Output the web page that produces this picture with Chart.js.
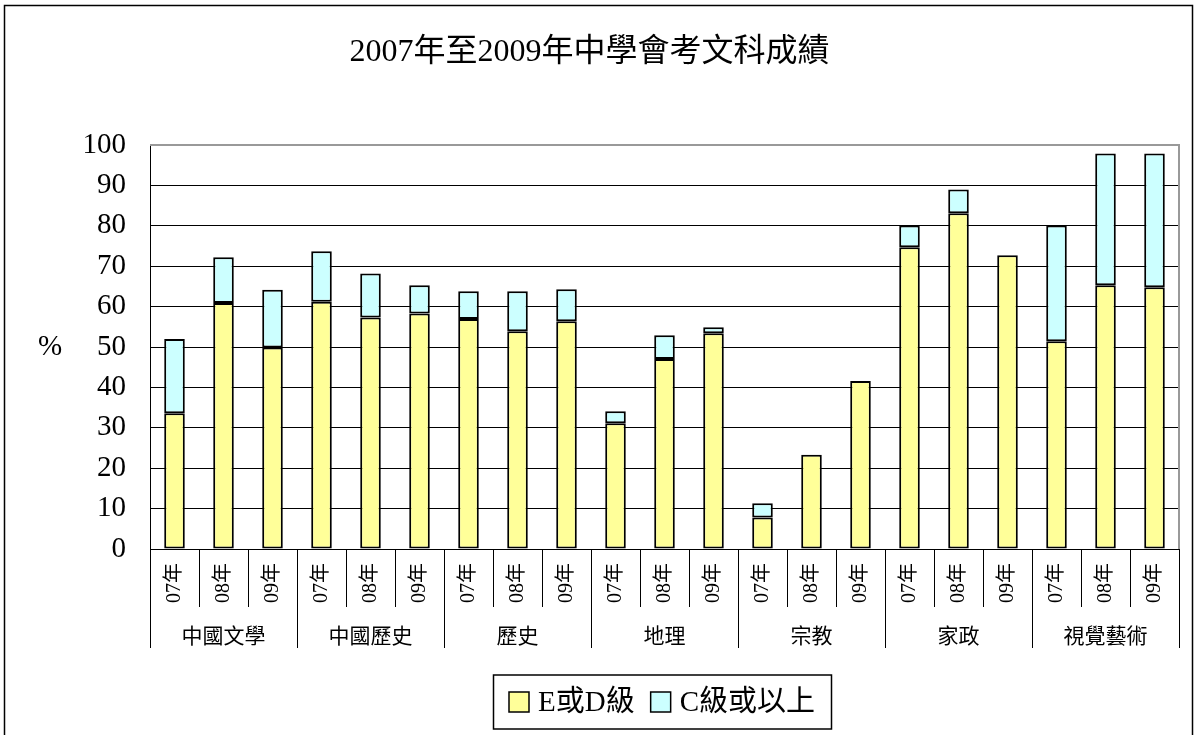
<!DOCTYPE html>
<html lang="zh-Hant">
<head>
    <meta charset="UTF-8">
    <title>2007年至2009年中學會考文科成績</title>
    <script src="https://cdn.jsdelivr.net/npm/chart.js"></script>
    <style>
        html, body { margin: 0; padding: 0; background: #fff; overflow: hidden; }
    </style>
</head>
<body>
    <canvas id="gradeChart" width="1197" height="735"></canvas>
    <script>
        // subjects and years (x axis has two levels)
        const subjects = ['中國文學', '中國歷史', '歷史', '地理', '宗教', '家政', '視覺藝術'];
        const years = ['07年', '08年', '09年'];

        // % of candidates per bar
        const gradeED = [33.6, 60.9, 49.9, 61.2, 57.3, 58.3, 56.9, 53.9, 56.4, 31.1, 47.0, 53.4, 7.8, 23.3, 41.6, 74.7, 83.1, 72.7, 51.4, 65.3, 64.8];
        const gradeCUp = [18.4, 11.3, 14.3, 12.5, 10.9, 7.0, 6.9, 9.9, 7.9, 3.0, 5.9, 1.5, 3.5, 0, 0, 5.4, 5.9, 0, 28.7, 32.6, 33.1];

        const seriesNames = ['E或D級', 'C級或以上'];
        const yTicks = [0, 10, 20, 30, 40, 50, 60, 70, 80, 90, 100];

        const labels = [];
        subjects.forEach(() => years.forEach(y => labels.push(y)));

        const fontStack = '"Liberation Serif", "Noto Sans CJK TC", serif';
        Chart.defaults.font.family = fontStack;
        Chart.defaults.color = '#000';

        // frame, category separators, group labels, % label and boxed legend
        const decor = {
            id: 'decor',
            beforeDraw(chart) {
                const ctx = chart.ctx;
                ctx.save();
                ctx.fillStyle = '#fff';
                ctx.fillRect(0, 0, chart.width, chart.height);
                ctx.strokeStyle = '#000';
                ctx.lineWidth = 1.5;
                ctx.strokeRect(4.5, 5.5, chart.width - 9, chart.height + 20);
                ctx.restore();
            },
            beforeDatasetsDraw(chart) {
                const { ctx, chartArea } = chart;
                ctx.save();
                ctx.strokeStyle = '#999';
                ctx.lineWidth = 2;
                ctx.beginPath();
                ctx.moveTo(chartArea.left, chartArea.top);
                ctx.lineTo(chartArea.right, chartArea.top);
                ctx.lineTo(chartArea.right, chartArea.bottom);
                ctx.stroke();
                ctx.restore();
            },
            afterDraw(chart) {
                const { ctx, chartArea } = chart;
                const x = chart.scales.x;
                const y = chart.scales.y;
                const base = chartArea.bottom;
                ctx.save();

                // separators below the axis
                ctx.strokeStyle = '#000';
                ctx.lineWidth = 1;
                for (let i = 0; i <= labels.length; i++) {
                    const px = Math.round(x.getPixelForValue(i - 0.5)) + 0.5;
                    const len = (i % years.length === 0) ? 99 : 58;
                    ctx.beginPath();
                    ctx.moveTo(px, base);
                    ctx.lineTo(px, base + len);
                    ctx.stroke();
                }

                // subject labels
                ctx.font = '21px ' + fontStack;
                ctx.fillStyle = '#000';
                ctx.textAlign = 'center';
                ctx.textBaseline = 'middle';
                subjects.forEach((s, g) => {
                    const cx = x.getPixelForValue(g * years.length + 1);
                    ctx.fillText(s, cx, base + 88);
                });

                // y axis unit
                ctx.font = '29px ' + fontStack;
                ctx.fillText('%', 50, y.getPixelForValue(50));

                // legend with a frame
                ctx.font = '29px ' + fontStack;
                const box = 20, gapText = 9, gapItem = 16, padX = 16;
                const widths = chart.data.datasets.map(d => ctx.measureText(d.label).width);
                let total = padX * 2;
                widths.forEach((w, i) => { total += box + gapText + w + (i ? gapItem : 0); });
                const cy = 702, h = 54;
                let lx = 662 - total / 2;
                ctx.lineWidth = 1.5;
                ctx.strokeRect(Math.round(lx) + 0.5, cy - h / 2, Math.round(total), h);
                lx += padX;
                ctx.textAlign = 'left';
                chart.data.datasets.forEach((d, i) => {
                    if (i) lx += gapItem;
                    ctx.fillStyle = d.backgroundColor;
                    ctx.fillRect(lx, cy - box / 2, box, box);
                    ctx.lineWidth = 1.5;
                    ctx.strokeRect(lx, cy - box / 2, box, box);
                    lx += box + gapText;
                    ctx.fillStyle = '#000';
                    ctx.fillText(d.label, lx, cy + 1);
                    lx += widths[i];
                });
                ctx.restore();
            }
        };

        new Chart(document.getElementById('gradeChart'), {
            type: 'bar',
            data: {
                labels: labels,
                datasets: [
                    {
                        label: seriesNames[0],
                        data: gradeED,
                        backgroundColor: '#FFFF99',
                        borderColor: '#000',
                        borderWidth: 2,
                        borderSkipped: false
                    },
                    {
                        label: seriesNames[1],
                        data: gradeCUp,
                        backgroundColor: '#CCFFFF',
                        borderColor: '#000',
                        borderWidth: 2,
                        borderSkipped: false
                    }
                ]
            },
            options: {
                responsive: false,
                animation: false,
                barPercentage: 0.42,
                categoryPercentage: 1,
                layout: { padding: { left: 0, right: 18, top: 0, bottom: 81 } },
                plugins: {
                    legend: { display: false },
                    tooltip: { enabled: false },
                    title: {
                        display: true,
                        text: '2007年至2009年中學會考文科成績',
                        color: '#000',
                        font: { size: 32, weight: 'normal', lineHeight: 1.2 },
                        padding: { top: 33, bottom: 73.6 }
                    }
                },
                scales: {
                    x: {
                        stacked: true,
                        offset: true,
                        grid: { display: false, drawTicks: false },
                        border: { display: true, color: '#000', width: 1 },
                        ticks: {
                            autoSkip: false,
                            minRotation: 90,
                            maxRotation: 90,
                            padding: 14,
                            color: '#000',
                            font: { size: 20 }
                        },
                        afterFit(scale) { scale.height = 105; }
                    },
                    y: {
                        stacked: true,
                        min: 0,
                        max: 100,
                        afterBuildTicks(scale) { scale.ticks = yTicks.map(v => ({ value: v })); },
                        grid: {
                            drawTicks: false,
                            color: c => (c.tick && c.tick.value === 100) ? '#999' : '#000',
                            lineWidth: 1
                        },
                        border: { display: true, color: '#000', width: 1 },
                        ticks: {
                            padding: 24,
                            color: '#000',
                            font: { size: 29 }
                        },
                        afterFit(scale) { scale.width = 150; }
                    }
                }
            },
            plugins: [decor]
        });
    </script>
</body>
</html>
